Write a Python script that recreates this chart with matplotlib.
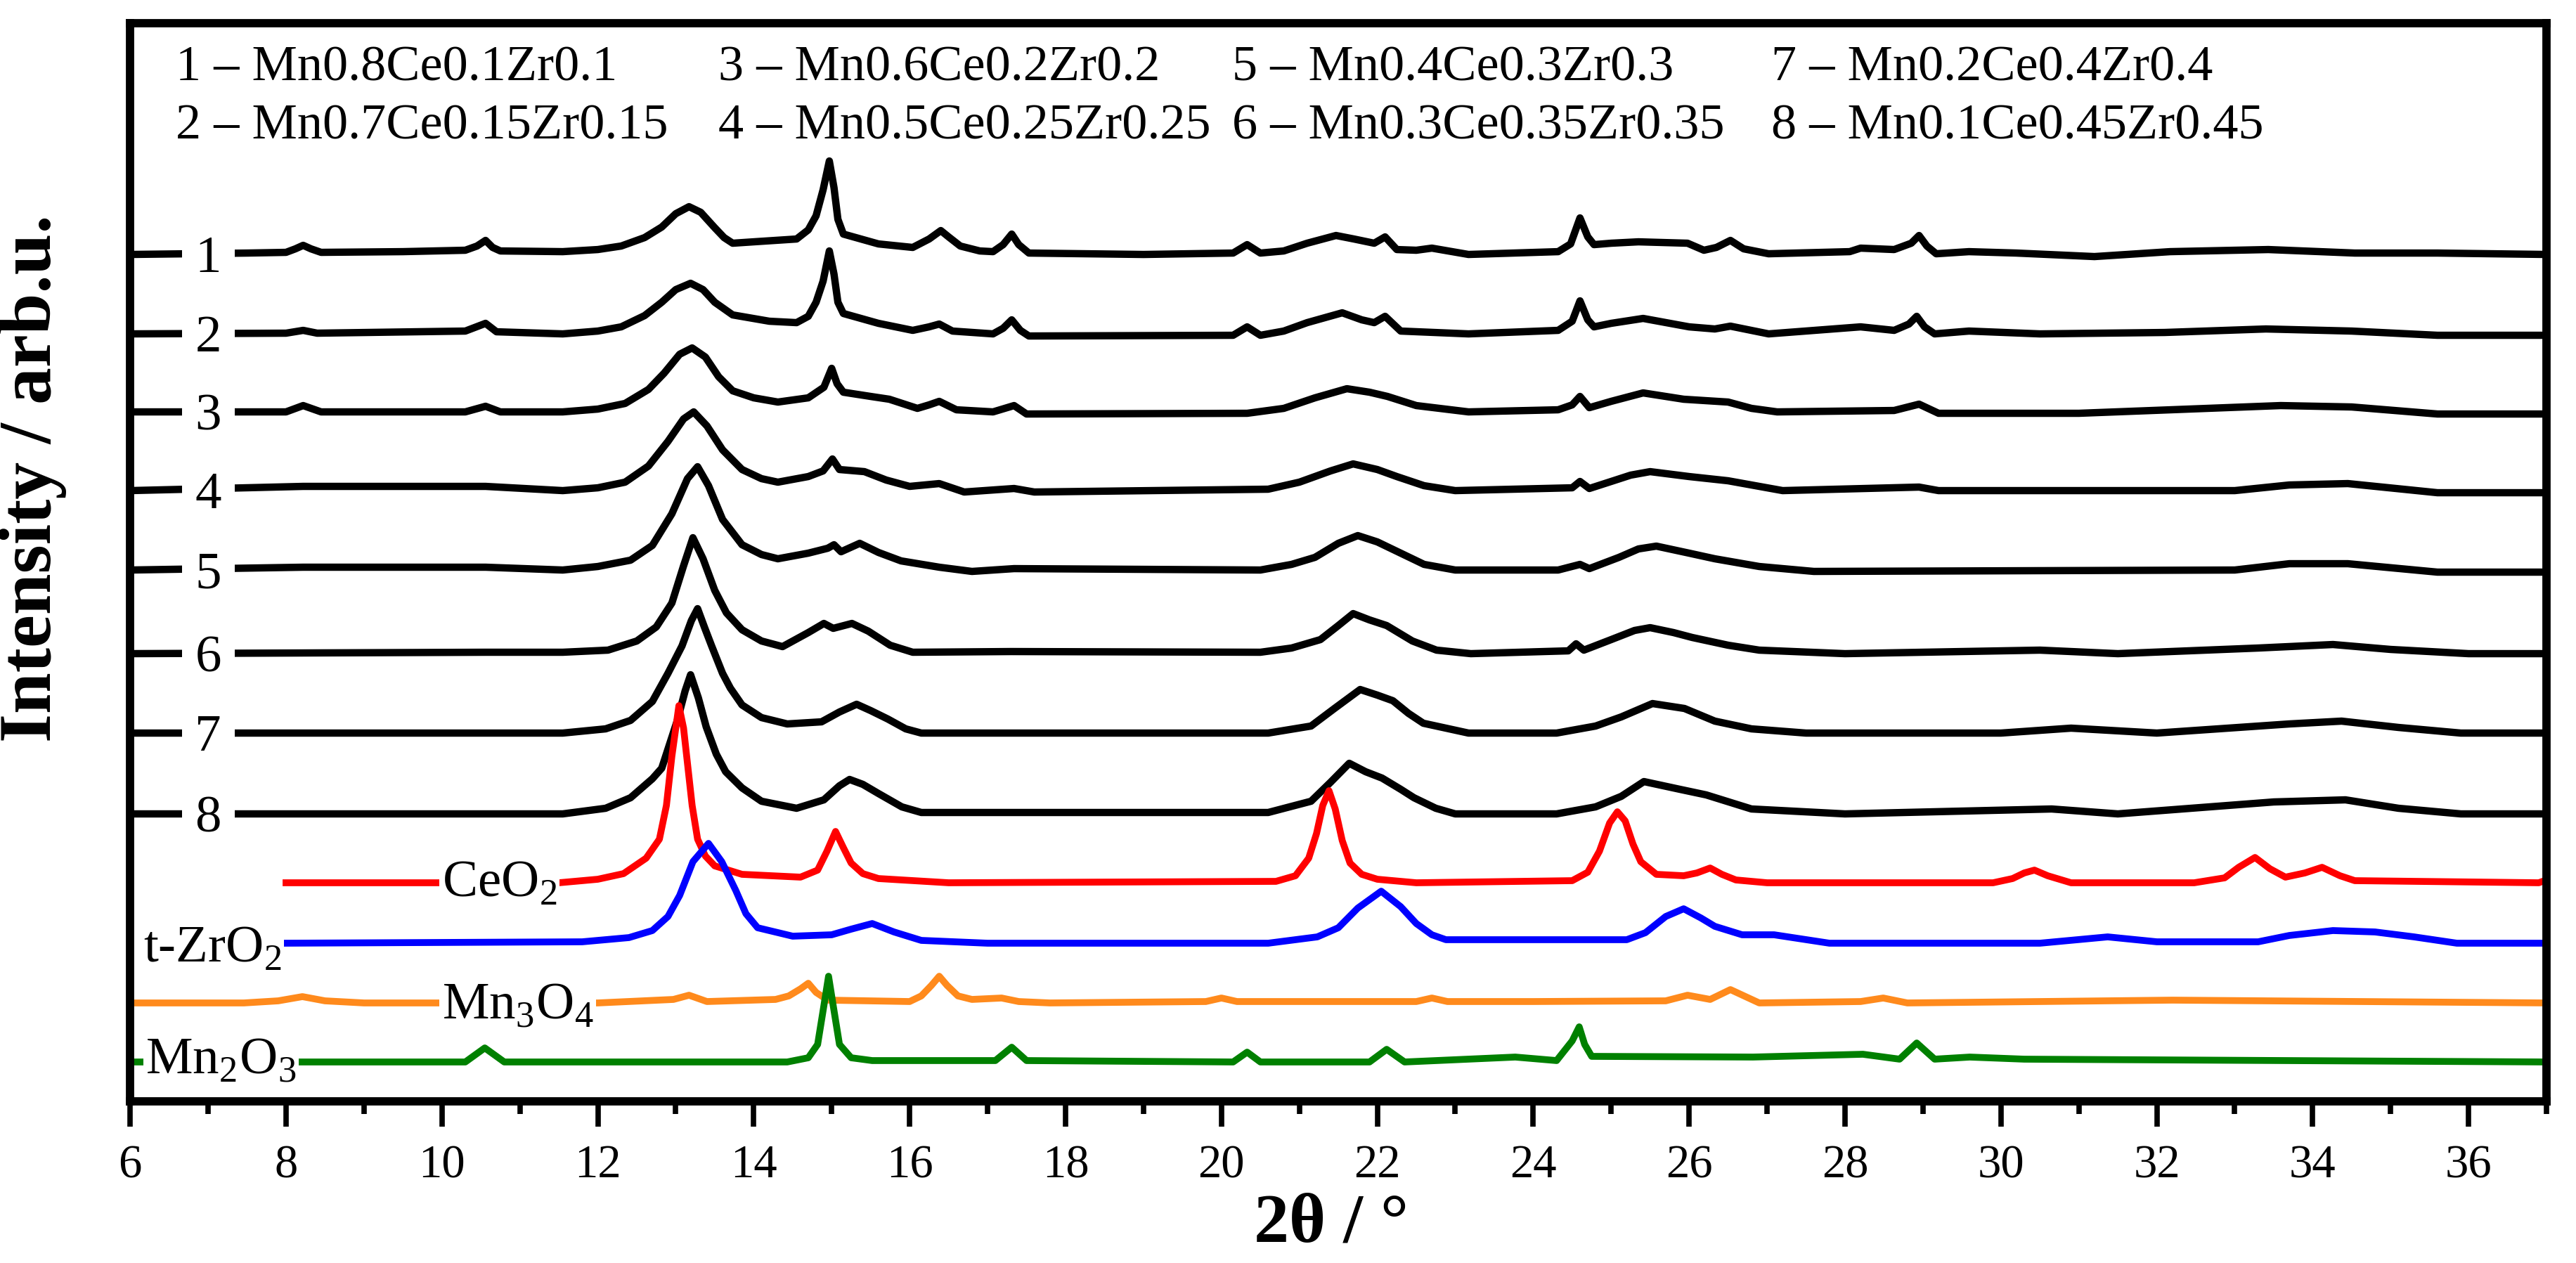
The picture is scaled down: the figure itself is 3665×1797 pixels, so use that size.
import matplotlib
matplotlib.use("Agg")
import matplotlib.pyplot as plt
from matplotlib.ticker import MultipleLocator

plt.rcParams['font.family'] = ['Liberation Serif', 'DejaVu Serif']
plt.rcParams['mathtext.fontset'] = 'custom'
plt.rcParams['mathtext.rm'] = 'Liberation Serif'

# --- data: 2theta (deg) and intensity above each baseline (arb.u.)
s1_x = [6.0, 7.5, 8.0, 8.12, 8.22, 8.32, 8.45, 9.5, 10.3, 10.45, 10.56, 10.65, 10.75, 11.55, 12.0,
        12.3, 12.6, 12.82, 13.0, 13.17, 13.32, 13.5, 13.62, 13.73, 14.0, 14.55, 14.7, 14.8, 14.89,
        14.97, 15.03, 15.08, 15.15, 15.6, 16.04, 16.25, 16.4, 16.5, 16.65, 16.9, 17.07, 17.2, 17.31,
        17.4, 17.53, 19.0, 20.15, 20.33, 20.5, 20.8, 21.1, 21.47, 21.7, 21.96, 22.1, 22.25, 22.5,
        22.7, 23.17, 24.32, 24.48, 24.6, 24.7, 24.78, 25.0, 25.35, 25.98, 26.19, 26.35, 26.53, 26.7,
        27.02, 28.06, 28.2, 28.63, 28.85, 28.95, 29.05, 29.17, 29.59, 30.2, 31.2, 32.17, 33.43,
        34.54, 35.6, 37.0]
s1_h = [0, 2, 3, 8, 13, 8, 3, 4, 6, 12, 20, 10, 5, 4, 7,
        12, 24, 39, 58, 68, 60, 38, 24, 16, 18, 22, 35, 55, 92,
        133, 95, 50, 29, 15, 10, 22, 34, 25, 12, 5, 4, 14, 29,
        14, 2, 0, 2, 14, 2, 5, 16, 27, 22, 16, 25, 7, 6,
        9, 0, 4, 15, 52, 25, 14, 16, 18, 16, 6, 10, 20, 8,
        1, 4, 9, 7, 16, 27, 12, 1, 4, 2, -3, 4, 7,
        2, 2, 0]

s2_x = [6.0, 8.0, 8.22, 8.4, 10.3, 10.56, 10.7, 11.55, 12.0, 12.3, 12.6, 12.82, 13.0, 13.19,
        13.35, 13.5, 13.73, 14.2, 14.55, 14.7, 14.8, 14.89, 14.97, 15.03, 15.08, 15.15, 15.6,
        16.04, 16.25, 16.38, 16.55, 17.07, 17.2, 17.31, 17.42, 17.53, 20.15, 20.33, 20.5, 20.8,
        21.1, 21.55, 21.8, 21.96, 22.1, 22.3, 23.17, 24.32, 24.5, 24.6, 24.7, 24.78, 25.0, 25.41,
        26.0, 26.33, 26.53, 27.02, 28.2, 28.63, 28.82, 28.92, 29.02, 29.15, 29.59, 30.5, 32.1,
        33.4, 34.5, 35.6, 37.0]
s2_h = [0, 1, 5, 1, 4, 15, 3, 0, 4, 10, 26, 45, 63, 72,
        63, 45, 27, 18, 16, 25, 45, 75, 118, 85, 45, 29, 15,
        5, 10, 14, 4, 0, 8, 20, 5, -3, -2, 10, -2, 4,
        16, 30, 20, 16, 25, 4, 0, 5, 18, 47, 20, 10, 15, 22,
        10, 7, 11, 0, 10, 5, 14, 25, 10, 0, 4, 0, 2,
        7, 4, -2, -2]

s3_x = [6.0, 8.0, 8.22, 8.45, 10.3, 10.56, 10.75, 11.55, 12.0, 12.35, 12.65, 12.85, 13.05, 13.21,
        13.38, 13.55, 13.73, 14.0, 14.31, 14.7, 14.9, 15.0, 15.07, 15.15, 15.5, 15.74, 16.1,
        16.25, 16.38, 16.6, 17.07, 17.34, 17.5, 20.33, 20.8, 21.2, 21.61, 21.9, 22.13, 22.5,
        23.17, 24.32, 24.5, 24.6, 24.72, 25.0, 25.41, 25.93, 26.5, 26.8, 27.13, 28.63, 28.95,
        29.2, 31.0, 33.59, 34.5, 35.6, 37.0]
s3_h = [0, 0, 9, 0, 0, 8, 0, 0, 4, 12, 32, 55, 82, 91,
        78, 50, 30, 20, 14, 20, 35, 62, 40, 28, 22, 18, 5,
        10, 15, 3, 0, 9, -3, -2, 5, 20, 33, 28, 22, 9,
        0, 3, 10, 22, 6, 15, 27, 18, 14, 5, 0, 2, 11,
        -2, -2, 9, 7, -3, -3]

s4_x = [6.0, 8.22, 10.56, 11.55, 12.0, 12.35, 12.65, 12.9, 13.1, 13.23, 13.4, 13.6, 13.85, 14.1,
        14.31, 14.7, 14.89, 15.01, 15.1, 15.42, 15.7, 16.0, 16.38, 16.7, 17.34, 17.6, 20.6, 21.0,
        21.4, 21.69, 22.0, 22.25, 22.6, 23.0, 24.5, 24.6, 24.72, 25.0, 25.25, 25.5, 26.0, 26.5,
        27.2, 28.95, 29.2, 33.0, 33.7, 34.45, 35.6, 37.0]
s4_h = [0, 6, 6, 0, 4, 12, 35, 70, 102, 112, 92, 58, 30, 17,
        12, 20, 28, 45, 30, 27, 15, 6, 10, -2, 3, -2, 2, 12,
        28, 38, 30, 20, 7, 0, 4, 13, 3, 13, 22, 27, 20, 14,
        0, 5, 0, 0, 8, 10, -3, -3]

s5_x = [6.0, 8.22, 10.56, 11.55, 12.0, 12.42, 12.7, 12.95, 13.15, 13.28, 13.42, 13.6, 13.85, 14.1,
        14.31, 14.7, 14.95, 15.03, 15.12, 15.36, 15.6, 15.89, 16.38, 16.8, 17.34, 20.5, 20.9, 21.2,
        21.5, 21.75, 22.0, 22.3, 22.6, 23.0, 24.32, 24.6, 24.72, 25.1, 25.35, 25.58, 26.0, 26.33,
        26.9, 27.6, 33.0, 33.7, 34.45, 35.6, 37.0]
s5_h = [0, 4, 4, 0, 5, 14, 35, 80, 130, 147, 120, 72, 36, 22,
        16, 24, 31, 36, 26, 38, 25, 13, 4, -2, 2, 0, 8, 18,
        38, 49, 40, 24, 8, 0, 0, 8, 2, 18, 30, 34, 24, 16,
        5, -2, 0, 9, 9, -3, -3]

s6_x = [6.0, 10.56, 11.55, 12.13, 12.5, 12.75, 12.95, 13.1, 13.22, 13.35, 13.5, 13.65, 13.85, 14.1,
        14.37, 14.7, 14.9, 15.02, 15.26, 15.47, 15.75, 16.04, 17.3, 20.5, 20.9, 21.27, 21.5, 21.69,
        21.9, 22.12, 22.45, 22.76, 23.2, 24.45, 24.55, 24.65, 25.0, 25.3, 25.5, 25.8, 26.04, 26.5,
        26.9, 28.0, 30.5, 31.5, 33.3, 34.26, 35.0, 36.0, 37.0]
s6_h = [0, 2, 2, 5, 18, 38, 72, 125, 165, 135, 90, 58, 34, 18,
        10, 30, 43, 36, 43, 32, 12, 2, 3, 2, 8, 20, 40, 57,
        48, 40, 18, 5, 0, 4, 14, 5, 20, 33, 37, 30, 23, 12,
        5, 0, 5, 0, 8, 13, 6, 0, 0]

s7_x = [6.0, 11.55, 12.1, 12.42, 12.7, 12.9, 13.08, 13.2, 13.28, 13.37, 13.46, 13.6, 13.7, 13.85,
        14.1, 14.43, 14.87, 15.1, 15.32, 15.5, 15.72, 15.95, 16.15, 20.6, 21.15, 21.45, 21.78, 22.0,
        22.2, 22.4, 22.59, 23.17, 24.3, 24.8, 25.13, 25.53, 25.94, 26.33, 26.8, 27.5, 30.0, 30.9,
        32.0, 33.7, 34.37, 35.1, 35.9, 37.0]
s7_h = [0, 0, 6, 18, 45, 85, 124, 160, 177, 150, 124, 85, 64, 40,
        22, 13, 16, 30, 41, 32, 20, 6, 0, 0, 10, 35, 62, 54,
        46, 28, 14, 0, 0, 10, 23, 42, 35, 17, 6, 0, 0, 7,
        0, 13, 17, 8, 0, 0]

s8_x = [6.0, 11.55, 12.1, 12.42, 12.7, 12.82, 13.02, 13.12, 13.19, 13.29, 13.39, 13.52, 13.64, 13.85,
        14.1, 14.55, 14.9, 15.1, 15.23, 15.4, 15.6, 15.9, 16.15, 20.6, 21.15, 21.4, 21.64, 21.85,
        22.06, 22.3, 22.47, 22.75, 23.0, 24.3, 24.8, 25.13, 25.42, 25.88, 26.22, 26.8, 28.0, 30.65,
        31.5, 33.5, 34.42, 35.1, 35.9, 37.0]
s8_h = [0, 0, 8, 23, 50, 65, 133, 175, 198, 165, 124, 85, 60, 37,
        18, 8, 20, 40, 49, 42, 29, 10, 2, 2, 18, 45, 72, 60,
        51, 35, 23, 8, 0, 0, 10, 25, 46, 35, 27, 7, 0, 7,
        0, 17, 20, 8, 0, 0]

ceo2_x = [8.0, 11.5, 12.0, 12.33, 12.62, 12.79, 12.88, 12.95, 13.04, 13.1, 13.15, 13.21, 13.28,
          13.38, 13.5, 13.85, 14.6, 14.82, 14.94, 15.05, 15.15, 15.25, 15.4, 15.6, 16.5, 20.7,
          20.95, 21.12, 21.22, 21.3, 21.38, 21.46, 21.55, 21.65, 21.8, 22.0, 22.5, 24.5, 24.7,
          24.85, 24.98, 25.08, 25.18, 25.28, 25.38, 25.58, 25.93, 26.1, 26.27, 26.42, 26.6, 27.0,
          29.9, 30.15, 30.3, 30.43, 30.6, 30.9, 32.48, 32.87, 33.05, 33.26, 33.45, 33.65, 33.9,
          34.12, 34.35, 34.54, 36.9, 37.0]
ceo2_h = [0, 0, 5, 13, 35, 62, 110, 180, 252, 220, 170, 110, 62,
          38, 24, 12, 8, 18, 45, 73, 50, 28, 13, 6, 0, 2,
          10, 35, 70, 110, 131, 105, 60, 28, 12, 5, 0, 3, 15,
          45, 85, 101, 88, 55, 30, 12, 10, 14, 21, 12, 4, 0,
          0, 6, 14, 18, 10, 0, 0, 7, 22, 36, 20, 8, 14,
          22, 10, 3, 0, 4]

zro2_x = [8.0, 11.8, 12.4, 12.7, 12.9, 13.05, 13.22, 13.42, 13.59, 13.77, 13.9, 14.05, 14.5, 15.0,
          15.25, 15.52, 15.8, 16.15, 17.0, 20.6, 21.23, 21.5, 21.75, 22.05, 22.3, 22.5, 22.7,
          22.88, 25.2, 25.44, 25.7, 25.93, 26.15, 26.33, 26.68, 27.09, 27.8, 30.5, 31.37, 32.0,
          33.3, 33.7, 34.26, 34.8, 35.3, 35.85, 37.0]
zro2_h = [0, 2, 8, 18, 38, 68, 116, 142, 116, 75, 42, 22, 10, 12,
          20, 28, 16, 4, 0, 0, 9, 22, 50, 74, 52, 28, 12,
          5, 5, 15, 38, 49, 36, 24, 12, 12, 0, 0, 9, 2,
          2, 11, 18, 16, 9, 0, 0]

mn3o4_x = [6.0, 7.46, 7.9, 8.21, 8.5, 9.0, 12.0, 12.97, 13.17, 13.4, 14.28, 14.45, 14.6, 14.7,
           14.8, 14.95, 16.0, 16.15, 16.28, 16.38, 16.48, 16.62, 16.8, 17.18, 17.4, 17.8, 19.8,
           20.0, 20.2, 22.5, 22.7, 22.9, 24.0, 25.7, 25.98, 26.27, 26.53, 26.9, 28.2, 28.49, 28.8,
           32.2, 37.0]
mn3o4_h = [0, 0, 3, 9, 3, 0, 0, 5, 11, 2, 5, 10, 20, 28,
           15, 4, 2, 10, 25, 38, 25, 10, 5, 7, 2, 0, 2,
           7, 2, 2, 7, 2, 2, 3, 11, 5, 19, 0, 2, 7, 0,
           4, 0]

mn2o3_x = [6.0, 10.3, 10.55, 10.8, 14.43, 14.7, 14.82, 14.9, 14.96, 15.02, 15.1, 15.25, 15.52,
           17.1, 17.31, 17.5, 20.15, 20.33, 20.5, 21.9, 22.12, 22.35, 23.77, 24.3, 24.5, 24.59,
           24.66, 24.75, 26.82, 28.23, 28.7, 28.92, 29.15, 29.6, 30.3, 37.0]
mn2o3_h = [0, 0, 20, 0, 0, 6, 25, 80, 122, 80, 25, 6, 2,
           2, 21, 2, 0, 14, 0, 0, 18, 0, 7, 2, 30, 50,
           25, 8, 7, 11, 4, 27, 4, 7, 4, 0]

sample_x = [s1_x, s2_x, s3_x, s4_x, s5_x, s6_x, s7_x, s8_x]
sample_h = [s1_h, s2_h, s3_h, s4_h, s5_h, s6_h, s7_h, s8_h]
sample_offsets = [1205, 1092, 981, 869, 756, 637, 524, 409]
sample_tags = ['1', '2', '3', '4', '5', '6', '7', '8']
sample_names = ['1 \u2013 Mn0.8Ce0.1Zr0.1', '2 \u2013 Mn0.7Ce0.15Zr0.15',
                '3 \u2013 Mn0.6Ce0.2Zr0.2', '4 \u2013 Mn0.5Ce0.25Zr0.25',
                '5 \u2013 Mn0.4Ce0.3Zr0.3', '6 \u2013 Mn0.3Ce0.35Zr0.35',
                '7 \u2013 Mn0.2Ce0.4Zr0.4', '8 \u2013 Mn0.1Ce0.45Zr0.45']

ref_x = [ceo2_x, zro2_x, mn3o4_x, mn2o3_x]
ref_h = [ceo2_h, zro2_h, mn3o4_h, mn2o3_h]
ref_offsets = [311, 225, 140, 56]
ref_names = [r'CeO$_\mathregular{2}$', r't-ZrO$_\mathregular{2}$',
             r'Mn$_\mathregular{3}$O$_\mathregular{4}$', r'Mn$_\mathregular{2}$O$_\mathregular{3}$']
ref_colors = ['#ff0000', '#0000ff', '#ff8a1c', '#008000']
ref_label_x = [10.0, 6.17, 10.0, 6.2]
ref_label_dy = [-20, -27, -22, -16]

fig = plt.figure(figsize=(36.66, 17.97), dpi=100)
ax = fig.add_axes([0.0505, 0.128, 0.9378, 0.8536])

for xs, hs, off, tag in zip(sample_x, sample_h, sample_offsets, sample_tags):
    ax.plot(xs, [off + h for h in hs], color='black', lw=7.5, solid_joinstyle='round')
    ax.text(7.0, off - 25, tag, ha='center', va='baseline', fontsize=54,
            bbox=dict(boxstyle='square,pad=0.25', fc='white', ec='none'))

for xs, hs, off, name, col, lx, dy in zip(ref_x, ref_h, ref_offsets, ref_names,
                                          ref_colors, ref_label_x, ref_label_dy):
    ax.plot(xs, [off + h for h in hs], color=col, lw=7.0, solid_joinstyle='round')
    ax.text(lx, off + dy, name, ha='left', va='baseline', fontsize=54,
            bbox=dict(boxstyle='square,pad=0.05', fc='white', ec='none'))

ax.set_xlim(6, 37)
ax.set_ylim(0, 1534)
ax.xaxis.set_major_locator(MultipleLocator(2))
ax.xaxis.set_minor_locator(MultipleLocator(1))
ax.tick_params(axis='x', which='major', direction='out', length=26, width=5.5,
               labelsize=48, pad=18)
ax.tick_params(axis='x', which='minor', direction='out', length=13, width=5.5)
ax.set_yticks([])
for sp in ax.spines.values():
    sp.set_linewidth(8.5)

col_x = [0.0682, 0.2788, 0.4782, 0.6874]
row_y = [0.946, 0.8998]
for i, name in enumerate(sample_names):
    fig.text(col_x[i // 2], row_y[i % 2], name, ha='left', va='center', fontsize=52)

fig.text(0.0128, 0.621, 'Intensity / arb.u.', rotation=90, ha='center', va='center',
         fontsize=76, fontweight='bold')
fig.text(0.5167, 0.0306, '2\u03b8 / \u00b0', ha='center', va='center',
         fontsize=72, fontweight='bold')

fig.savefig('out.png', dpi=100)
